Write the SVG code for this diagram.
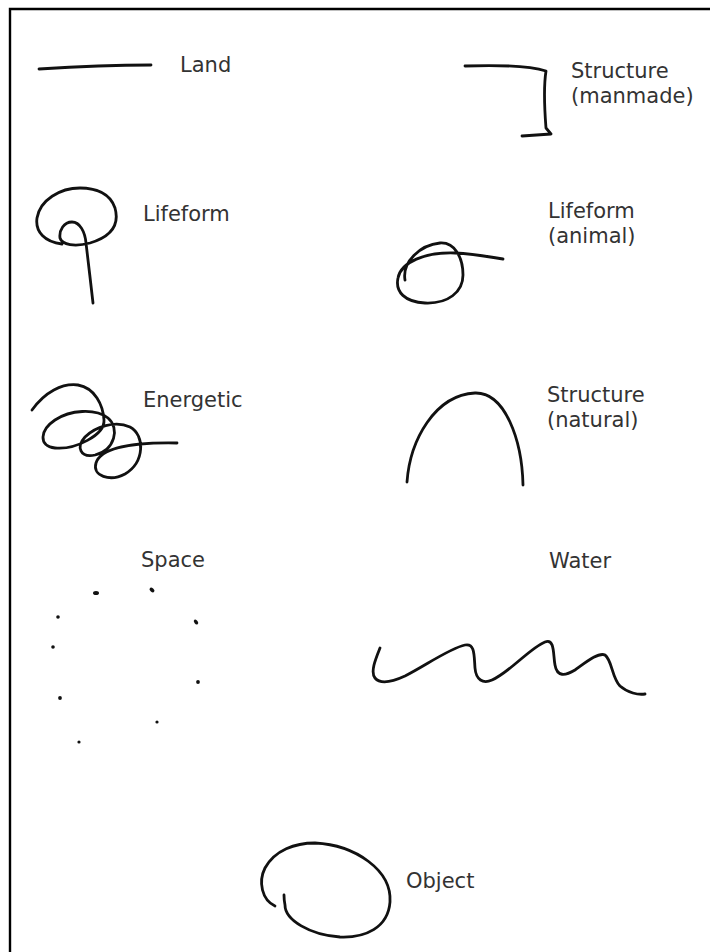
<svg xmlns="http://www.w3.org/2000/svg" width="710" height="952" viewBox="0 0 710 952">
<style>
.lbl{font-family:"DejaVu Sans","Verdana",sans-serif;font-size:21px;fill:#333}
.ink{fill:none;stroke:#111;stroke-width:2.8;stroke-linecap:round;stroke-linejoin:round}
.dot{fill:#111}
</style>
<rect width="710" height="952" fill="#fff"/>
<path d="M10,952 V9 H710" fill="none" stroke="#000" stroke-width="2.4"/>
<g id="land">
<path class="ink" d="M39,69 C70,67 120,65 151,65"/>
<text class="lbl" x="180" y="72">Land</text>
</g>
<g id="structure-manmade">
<path class="ink" d="M465,66 C495,65 530,66 546,71 C543,90 545,115 546,128 L551,134 L522,136"/>
<text class="lbl" x="571" y="78">Structure</text>
<text class="lbl" x="571" y="102.5">(manmade)</text>
</g>
<g id="lifeform">
<path class="ink" d="M93,303 C91,285 88,260 86,243 C85,232 80,222 72,222 C64,222 59,230 60,238 C62,245 75,247 90,243 C110,237 120,226 115,208 C110,193 95,188 80,188 C60,188 40,200 37,218 C35,232 45,242 62,244"/>
<text class="lbl" x="143" y="221">Lifeform</text>
</g>
<g id="lifeform-animal">
<path class="ink" d="M405,280 C402,262 420,245 440,243 C455,242 463,258 463,275 C463,292 448,304 425,303 C405,302 395,292 398,278 C401,262 425,252 455,253 C475,254 490,257 503,259"/>
<text class="lbl" x="548" y="218">Lifeform</text>
<text class="lbl" x="548" y="242.5">(animal)</text>
</g>
<g id="energetic">
<path class="ink" d="M32,410 C45,392 62,383 78,385 C95,388 103,405 104,420 C105,435 75,450 55,448 C38,446 40,430 55,420 C70,410 95,408 108,418 C120,428 115,450 95,455 C80,458 76,447 85,437 C95,427 115,420 130,427 C145,435 145,462 125,474 C110,482 92,476 96,463 C100,450 125,442 177,443"/>
<text class="lbl" x="143" y="407">Energetic</text>
</g>
<g id="structure-natural">
<path class="ink" d="M407,482 C410,440 435,395 475,393 C505,392 522,440 523,485"/>
<text class="lbl" x="547" y="402">Structure</text>
<text class="lbl" x="547" y="426.5">(natural)</text>
</g>
<g id="space">
<ellipse class="dot" cx="96" cy="593" rx="3" ry="2"/>
<ellipse class="dot" cx="152" cy="590" rx="2.8" ry="1.8" transform="rotate(40 152 590)"/>
<circle class="dot" cx="58" cy="617" r="1.8"/>
<ellipse class="dot" cx="196" cy="622" rx="2.8" ry="1.8" transform="rotate(55 196 622)"/>
<circle class="dot" cx="53" cy="647" r="1.8"/>
<circle class="dot" cx="198" cy="682" r="1.9"/>
<circle class="dot" cx="60" cy="698" r="1.9"/>
<circle class="dot" cx="157" cy="722" r="1.6"/>
<circle class="dot" cx="79" cy="742" r="1.6"/>
<text class="lbl" x="141" y="567">Space</text>
</g>
<g id="water">
<path class="ink" d="M380,648 C376,658 370,672 375,678 C380,684 392,682 405,676 C425,666 450,648 465,645 C475,643 474,655 475,668 C476,680 483,684 492,680 C510,672 530,648 545,642 C555,638 553,655 555,665 C557,677 565,676 575,670 C585,663 598,652 605,655 C612,660 612,678 620,686 C628,693 638,695 645,694"/>
<text class="lbl" x="549" y="568">Water</text>
</g>
<g id="object">
<path class="ink" d="M275,906 C262,900 258,882 265,868 C275,850 295,843 315,843 C355,845 392,870 390,902 C388,928 365,938 340,937 C310,935 285,920 285,905 C284,900 284,897 284,895"/>
<text class="lbl" x="406" y="888">Object</text>
</g>
</svg>
